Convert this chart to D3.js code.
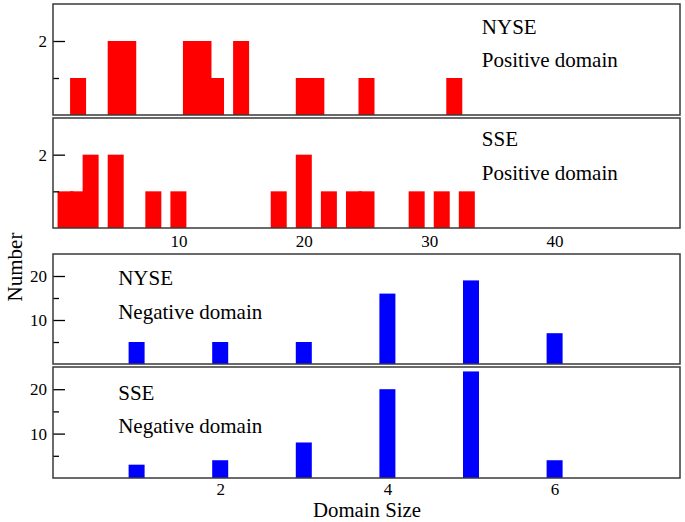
<!DOCTYPE html>
<html>
<head>
<meta charset="utf-8">
<script src="https://cdn.jsdelivr.net/npm/d3@7"></script>
<style>
  html, body { margin: 0; padding: 0; background: #fff; }
  svg text { font-family: "Liberation Serif", "DejaVu Serif", "Times New Roman", serif !important; fill: #000; }
</style>
</head>
<body>
<svg id="chart" width="685" height="522"></svg>
<script>
// ---- data ----
const nysePosSize  = [2, 5, 6, 11, 12, 13, 15, 20, 21, 25, 32];
const nysePosCount = [1, 2, 2, 2, 2, 1, 2, 1, 1, 1, 1];
const ssePosSize   = [1, 2, 3, 5, 8, 10, 18, 20, 22, 24, 25, 29, 31, 33];
const ssePosCount  = [1, 1, 2, 2, 1, 1, 1, 2, 1, 1, 1, 1, 1, 1];
const nyseNegSize  = [1, 2, 3, 4, 5, 6];
const nyseNegCount = [5, 5, 5, 16, 19, 7];
const sseNegSize   = [1, 2, 3, 4, 5, 6];
const sseNegCount  = [3, 4, 8, 20, 24, 4];
const topXTicks    = [10, 20, 30, 40];
const bottomXTicks = [2, 4, 6];
const topYMajor = [2], topYMinor = [1];
const botYMajor = [10, 20], botYMinor = [5, 15];
const labelsNYSEPos = ["NYSE", "Positive domain"];
const labelsSSEPos  = ["SSE", "Positive domain"];
const labelsNYSENeg = ["NYSE", "Negative domain"];
const labelsSSENeg  = ["SSE", "Negative domain"];
const xTitle = "Domain Size";
const yTitle = "Number";

// ---- layout ----
const FONT = "Liberation Serif, DejaVu Serif, Times New Roman, serif";
const svg = d3.select("#chart");
const L = 53, R = 680;
const barW = 16;
const frameColor = "#3a3a3a";

const xTop = d3.scaleLinear().domain([0, 50]).range([L, R]);
const xBot = d3.scaleLinear().domain([0, 7.5]).range([L, R]);

const panels = [
  { top: 4,   bottom: 115, x: xTop, ymax: 3,  sizes: nysePosSize, counts: nysePosCount, color: "#ff0000",
    major: topYMajor, minor: topYMinor, labels: labelsNYSEPos, lx: 34.2, ly: [29.5, 63], xt: null },
  { top: 118, bottom: 228, x: xTop, ymax: 3,  sizes: ssePosSize, counts: ssePosCount, color: "#ff0000",
    major: topYMajor, minor: topYMinor, labels: labelsSSEPos, lx: 34.2, ly: [28, 61.5], xt: topXTicks },
  { top: 254, bottom: 364, x: xBot, ymax: 25, sizes: nyseNegSize, counts: nyseNegCount, color: "#0000ff",
    major: botYMajor, minor: botYMinor, labels: labelsNYSENeg, lx: 0.78, ly: [31, 64.5], xt: null },
  { top: 367, bottom: 478, x: xBot, ymax: 25, sizes: sseNegSize, counts: sseNegCount, color: "#0000ff",
    major: botYMajor, minor: botYMinor, labels: labelsSSENeg, lx: 0.78, ly: [33, 66], xt: bottomXTicks }
];

panels.forEach((p, pi) => {
  const y = d3.scaleLinear().domain([0, p.ymax]).range([p.bottom, p.top]);
  const g = svg.append("g");

  // bars (taller bars drawn last)
  const data = p.sizes.map((s, i) => ({ s, c: p.counts[i] })).sort((a, b) => a.c - b.c);
  g.selectAll("rect.bar").data(data).join("rect")
    .attr("class", "bar")
    .attr("x", d => p.x(d.s) - barW / 2)
    .attr("width", barW)
    .attr("y", d => y(d.c))
    .attr("height", d => y(0) - y(d.c))
    .attr("fill", p.color);

  // y axis major ticks
  const ya = g.append("g").attr("transform", `translate(${L},0)`)
    .call(d3.axisLeft(y).tickValues(p.major).tickSize(-12).tickPadding(6).tickFormat(d3.format("d")));
  ya.attr("font-family", FONT);
  ya.select(".domain").remove();
  ya.selectAll(".tick line").attr("stroke", "#000").attr("stroke-width", 1.3);
  ya.selectAll(".tick text").attr("font-size", 17).attr("font-family", FONT);

  // y axis minor ticks
  const ym = g.append("g").attr("transform", `translate(${L},0)`)
    .call(d3.axisLeft(y).tickValues(p.minor).tickSize(-6).tickFormat(""));
  ym.select(".domain").remove();
  ym.selectAll(".tick line").attr("stroke", "#000").attr("stroke-width", 1.3);

  // x tick labels
  if (p.xt) {
    const xa = g.append("g").attr("transform", `translate(0,${p.bottom})`)
      .call(d3.axisBottom(p.x).tickValues(p.xt).tickSize(0).tickPadding(pi === 3 ? 5 : 7).tickFormat(d3.format("d")));
    xa.attr("font-family", FONT);
    xa.select(".domain").remove();
    xa.selectAll(".tick text").attr("font-size", 17).attr("font-family", FONT);
  }

  // frame
  g.append("rect")
    .attr("x", L).attr("y", p.top)
    .attr("width", R - L).attr("height", p.bottom - p.top)
    .attr("fill", "none").attr("stroke", frameColor).attr("stroke-width", 1.5);

  // annotations
  p.labels.forEach((t, i) => {
    g.append("text")
      .attr("x", p.x(p.lx))
      .attr("y", p.top + p.ly[i])
      .attr("font-family", FONT)
      .attr("font-size", 21)
      .text(t);
  });
});

// axis titles
svg.append("text")
  .attr("x", 367)
  .attr("y", 517.3)
  .attr("text-anchor", "middle")
  .attr("font-family", FONT)
  .attr("font-size", 20.8)
  .text(xTitle);

svg.append("text")
  .attr("transform", "translate(22,267) rotate(-90)")
  .attr("text-anchor", "middle")
  .attr("font-family", FONT)
  .attr("font-size", 21)
  .text(yTitle);
</script>
</body>
</html>
